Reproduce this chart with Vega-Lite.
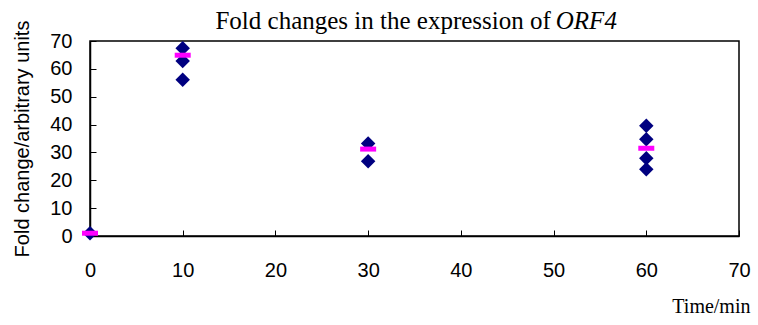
{
  "$schema": "https://vega.github.io/schema/vega-lite/v6.json",
  "autosize": "none",
  "width": 649,
  "height": 195,
  "padding": {"left": 90, "top": 41, "right": 19, "bottom": 89},
  "background": "white",
  "datasets": {
    "expression": [
      {"time": 0, "fold": 1.0, "kind": "replicate"},
      {"time": 10, "fold": 67.4, "kind": "replicate"},
      {"time": 10, "fold": 62.8, "kind": "replicate"},
      {"time": 10, "fold": 56.1, "kind": "replicate"},
      {"time": 30, "fold": 33.2, "kind": "replicate"},
      {"time": 30, "fold": 26.8, "kind": "replicate"},
      {"time": 60, "fold": 39.6, "kind": "replicate"},
      {"time": 60, "fold": 34.7, "kind": "replicate"},
      {"time": 60, "fold": 27.9, "kind": "replicate"},
      {"time": 60, "fold": 24.0, "kind": "replicate"},
      {"time": 0, "fold": 1.0, "kind": "mean"},
      {"time": 10, "fold": 64.9, "kind": "mean"},
      {"time": 30, "fold": 31.2, "kind": "mean"},
      {"time": 60, "fold": 31.5, "kind": "mean"}
    ],
    "heading": [
      {"plain": "Fold changes in the expression of", "gene": "ORF4", "time": 49.7, "fold": 74.3}
    ]
  },
  "encoding": {
    "x": {
      "field": "time",
      "type": "quantitative",
      "scale": {"domain": [0, 70], "nice": false, "zero": false},
      "axis": {
        "title": "Time/min",
        "values": [0, 10, 20, 30, 40, 50, 60, 70],
        "grid": false,
        "domainColor": "black",
        "domainWidth": 1.5,
        "tickColor": "black",
        "tickWidth": 1,
        "tickSize": -6,
        "labelPadding": 40,
        "labelFlush": false,
        "labelOverlap": false,
        "labelFont": "Liberation Sans",
        "labelFontSize": 20,
        "labelColor": "black",
        "labelBaseline": "middle",
        "titleFont": "Liberation Serif",
        "titleFontSize": 20,
        "titleFontWeight": "normal",
        "titleColor": "black",
        "titleAnchor": "end",
        "titleAlign": "right",
        "titleBaseline": "alphabetic",
        "titleX": 660,
        "titleY": 76
      }
    },
    "y": {
      "field": "fold",
      "type": "quantitative",
      "scale": {"domain": [0, 70], "nice": false, "zero": false},
      "axis": {
        "title": "Fold change/arbitrary units",
        "values": [0, 10, 20, 30, 40, 50, 60, 70],
        "grid": false,
        "domainColor": "black",
        "domainWidth": 1.5,
        "tickColor": "black",
        "tickWidth": 1,
        "tickSize": -6,
        "labelPadding": 24,
        "labelFlush": false,
        "labelOverlap": false,
        "labelFont": "Liberation Sans",
        "labelFontSize": 20,
        "labelColor": "black",
        "titleFont": "Liberation Sans",
        "titleFontSize": 20,
        "titleFontWeight": "normal",
        "titleColor": "black",
        "titlePadding": 17
      }
    }
  },
  "layer": [
    {
      "data": {"name": "expression"},
      "transform": [{"filter": "datum.kind === 'replicate'"}],
      "mark": {"type": "point", "shape": "diamond", "filled": true, "opacity": 1, "color": "#000080", "size": 210}
    },
    {
      "data": {"name": "expression"},
      "transform": [{"filter": "datum.kind === 'mean'"}],
      "mark": {"type": "tick", "orient": "horizontal", "color": "#FF00FF", "opacity": 1, "size": 16, "thickness": 5}
    },
    {
      "data": {"name": "heading"},
      "mark": {"type": "text", "font": "Liberation Serif", "fontSize": 25, "align": "right", "baseline": "alphabetic", "fill": "black", "clip": false},
      "encoding": {
        "text": {"field": "plain", "type": "nominal"}
      }
    },
    {
      "data": {"name": "heading"},
      "mark": {"type": "text", "font": "Liberation Serif", "fontSize": 25, "fontStyle": "italic", "align": "left", "baseline": "alphabetic", "fill": "black", "dx": 5, "clip": false},
      "encoding": {
        "text": {"field": "gene", "type": "nominal"}
      }
    }
  ],
  "config": {
    "view": {"stroke": "black", "strokeWidth": 1.5},
    "axis": {"labelOverlap": false}
  }
}
